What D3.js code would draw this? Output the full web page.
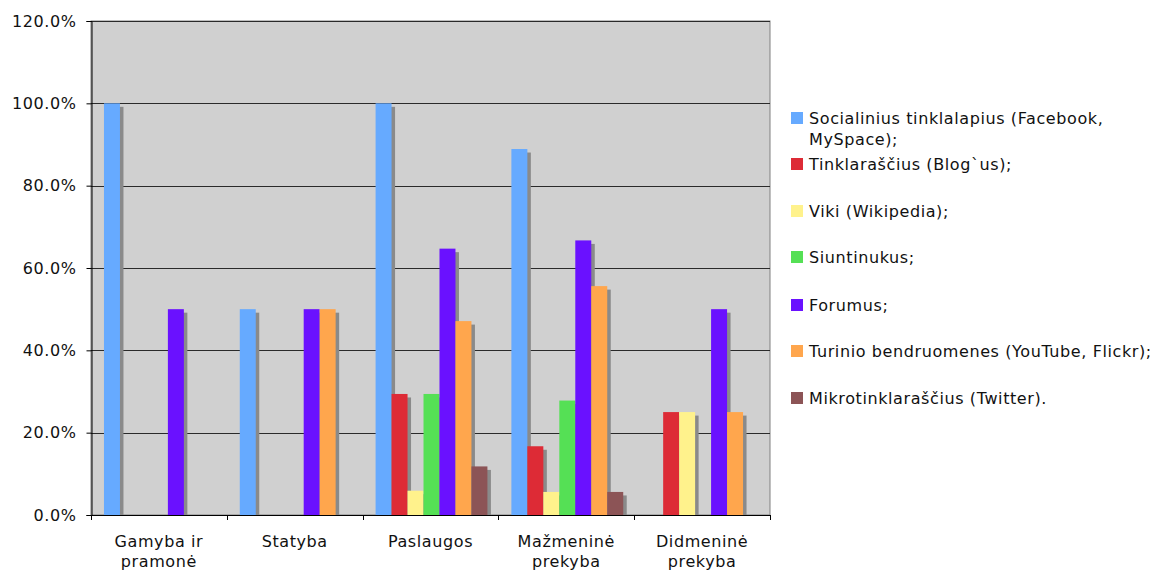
<!DOCTYPE html>
<html>
<head>
<meta charset="utf-8">
<script src="https://cdn.jsdelivr.net/npm/d3@7"></script>
<style>
  html, body { margin: 0; padding: 0; background: #ffffff; }
  svg { display: block; font-family: "DejaVu Sans", Verdana, sans-serif; }
</style>
</head>
<body>
<svg id="chart" width="1154" height="571"></svg>
<script>
// Sectors (x categories); each label may wrap to two lines
const categories = ["Gamyba ir pramonė", "Statyba", "Paslaugos", "Mažmeninė prekyba", "Didmeninė prekyba"];
const categoryLines = [["Gamyba ir", "pramonė"], ["Statyba"], ["Paslaugos"], ["Mažmeninė", "prekyba"], ["Didmeninė", "prekyba"]];

// Share of companies using each kind of social media, % per sector
const seriesNames = [
  "Socialinius tinklalapius (Facebook, MySpace);",
  "Tinklaraščius (Blog`us);",
  "Viki (Wikipedia);",
  "Siuntinukus;",
  "Forumus;",
  "Turinio bendruomenes (YouTube, Flickr);",
  "Mikrotinklaraščius (Twitter)."
];
const socialNetworks = [100, 50, 100, 88.9, 0];
const blogs          = [0, 0, 29.4, 16.7, 25];
const wikis          = [0, 0, 5.9, 5.6, 25];
const sharing        = [0, 0, 29.4, 27.8, 0];
const forums         = [50, 50, 64.7, 66.7, 50];
const contentComms   = [0, 50, 47.1, 55.6, 25];
const microblogs     = [0, 0, 11.8, 5.6, 0];
const seriesValues = [socialNetworks, blogs, wikis, sharing, forums, contentComms, microblogs];

const yTicks = [0, 20, 40, 60, 80, 100, 120];
const colors = ["#66aaff", "#dd2b36", "#fff28c", "#55e055", "#6a11ff", "#ffa64d", "#8c5456"];

const svg = d3.select("#chart");
const plot = { left: 91, top: 21, right: 770, bottom: 515 };
const textStyle = sel => sel.attr("font-size", 16).attr("fill", "#111")
  .attr("letter-spacing", "0.6px").attr("font-family", "DejaVu Sans, Verdana, sans-serif");

const x0 = d3.scaleBand().domain(categories).range([plot.left, plot.right]).paddingInner(0).paddingOuter(0);
const barW = x0.bandwidth() / 8.5;
const x1 = d3.scaleBand().domain(d3.range(seriesNames.length))
  .range([0, barW * seriesNames.length]);
const groupOffset = (x0.bandwidth() - barW * seriesNames.length) / 2 + 1;
const y = d3.scaleLinear().domain([0, 120]).range([plot.bottom, plot.top]);

// plot background
svg.append("rect")
  .attr("x", plot.left).attr("y", plot.top)
  .attr("width", plot.right - plot.left).attr("height", plot.bottom - plot.top)
  .attr("fill", "#d0d0d0").attr("stroke", "#808080").attr("stroke-width", 1);

// horizontal gridlines
svg.append("g").selectAll("line").data(yTicks.filter(t => t > 0)).join("line")
  .attr("x1", plot.left).attr("x2", plot.right)
  .attr("y1", d => Math.round(y(d)) + 0.5).attr("y2", d => Math.round(y(d)) + 0.5)
  .attr("stroke", "#2a2a2a").attr("stroke-width", 1);

// bars with drop shadows
const shadowOff = 3.5;
const flat = [];
seriesValues.forEach((vals, si) => vals.forEach((v, ci) => flat.push({ si, ci, v })));
const barsData = flat.filter(d => d.v > 0);
const barG = svg.append("g");
barsData.forEach(d => {
  const bx = x0(categories[d.ci]) + groupOffset + x1(d.si);
  barG.append("rect")
    .attr("x", bx + shadowOff).attr("y", y(d.v) + shadowOff)
    .attr("width", x1.bandwidth()).attr("height", Math.max(0, y(0) - y(d.v) - shadowOff))
    .attr("fill", "#8a8a8a");
});
barsData.forEach(d => {
  const bx = x0(categories[d.ci]) + groupOffset + x1(d.si);
  barG.append("rect")
    .attr("x", bx).attr("y", y(d.v))
    .attr("width", x1.bandwidth()).attr("height", y(0) - y(d.v))
    .attr("fill", colors[d.si]);
});

// y axis
const yAxis = d3.axisLeft(y).tickValues(yTicks).tickSize(5).tickPadding(10)
  .tickFormat(d => d.toFixed(1) + "%");
const yg = svg.append("g").attr("transform", `translate(${plot.left + 0.5},0)`).call(yAxis);
yg.select(".domain").attr("stroke", "#000");
yg.selectAll(".tick line").attr("stroke", "#000");
yg.selectAll(".tick text").call(textStyle);

// x axis line and category separators
const xg = svg.append("g");
xg.append("line").attr("x1", plot.left).attr("x2", plot.right)
  .attr("y1", plot.bottom + 0.5).attr("y2", plot.bottom + 0.5).attr("stroke", "#000");
const bounds = categories.map(c => x0(c)).concat([plot.right]);
xg.selectAll("line.sep").data(bounds).join("line").attr("class", "sep")
  .attr("x1", d => Math.round(d) + 0.5).attr("x2", d => Math.round(d) + 0.5)
  .attr("y1", plot.bottom).attr("y2", plot.bottom + 5).attr("stroke", "#000");

categories.forEach((c, i) => {
  const cx = x0(c) + x0.bandwidth() / 2;
  const t = xg.append("text")
    .attr("x", cx).attr("y", 546.5)
    .attr("text-anchor", "middle").call(textStyle);
  categoryLines[i].forEach((ln, k) => {
    t.append("tspan").attr("x", cx).attr("dy", k === 0 ? 0 : 20).text(ln);
  });
});

// legend
const legendY = [118, 164, 211, 257, 305, 351, 398];
const legendLines = [["Socialinius tinklalapius (Facebook,", "MySpace);"]].concat(seriesNames.slice(1).map(s => [s]));
const lg = svg.append("g");
seriesNames.forEach((s, i) => {
  lg.append("rect").attr("x", 791).attr("y", legendY[i] - 6).attr("width", 12).attr("height", 12)
    .attr("fill", colors[i]);
  const t = lg.append("text").attr("x", 809).attr("y", legendY[i] + 6).call(textStyle);
  legendLines[i].forEach((ln, k) => {
    t.append("tspan").attr("x", 809).attr("dy", k === 0 ? 0 : 21).text(ln);
  });
});
</script>
</body>
</html>
